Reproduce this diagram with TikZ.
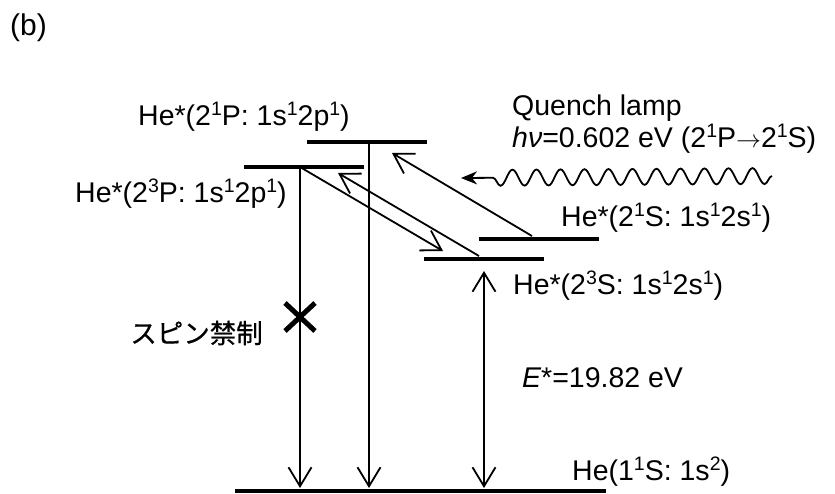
\documentclass[tikz,border=0pt]{standalone}
\usepackage{fontspec}
\setmainfont{Liberation Sans}
\newfontfamily\cjkfont[FakeBold=0.6]{Noto Sans CJK JP}
\usetikzlibrary{arrows.meta,decorations.pathmorphing,calc}
\newcommand\mysup[1]{\raisebox{0.34em}{\fontsize{19.5}{19.5}\selectfont #1}}
\begin{document}
\begin{tikzpicture}[x=1pt,y=-1pt,
  lbl/.style={anchor=base west, inner sep=0pt, font=\fontsize{28.5}{32}\selectfont},
  levelline/.style={line width=3.5pt},
  trans/.style={line width=1.8pt, -{Straight Barb[length=19pt,width=23pt]}},
  both/.style={line width=1.8pt, {Straight Barb[length=19pt,width=23pt]}-{Straight Barb[length=19pt,width=23pt]}},
  wave/.style={line width=1.8pt, -{Stealth[length=16pt,width=13pt,inset=5pt]},
    decorate, decoration={snake, amplitude=8pt, segment length=24pt, post length=22pt}},
  xmark/.style={line width=5pt}]
\useasboundingbox (0,0) rectangle (835,493);

% level end points
\coordinate (P1a) at (307,142); \coordinate (P1b) at (427,142);
\coordinate (P3a) at (244,167); \coordinate (P3b) at (364,167);
\coordinate (S1a) at (479,239); \coordinate (S1b) at (599,239);
\coordinate (S3a) at (424,259); \coordinate (S3b) at (544,259);
\coordinate (Ga) at (235,491);  \coordinate (Gb) at (606,491);

\draw[levelline] (P1a) -- (P1b);
\draw[levelline] (P3a) -- (P3b);
\draw[levelline] (S1a) -- (S1b);
\draw[levelline] (S3a) -- (S3b);
\draw[levelline] (Ga) -- (Gb);

% vertical transitions
\coordinate (v1s) at (300,167); \coordinate (v1e) at (300,488);
\coordinate (v2s) at (369,142); \coordinate (v2e) at (369,488);
\coordinate (v3s) at (484,271); \coordinate (v3e) at (484,488);
\draw[trans] (v1s) -- (v1e);
\draw[trans] (v2s) -- (v2e);
\draw[both] (v3s) -- (v3e);

% diagonal transitions
\coordinate (dAs) at (300,167); \coordinate (dAe) at (443,251);
\coordinate (dBs) at (479,256); \coordinate (dBe) at (338,173);
\coordinate (dCs) at (532,236); \coordinate (dCe) at (392,153);
\draw[trans] (dAs) -- (dAe);
\draw[trans] (dBs) -- (dBe);
\draw[trans] (dCs) -- (dCe);

% quench lamp wave
\coordinate (ws) at (772,176); \coordinate (we) at (461,178);
\draw[wave] (ws) -- (we);

% spin-forbidden cross
\coordinate (xc) at (300,317);
\draw[xmark] ($(xc)+(-15,-14)$) -- ($(xc)+(15,14)$);
\draw[xmark] ($(xc)+(-15,14)$) -- ($(xc)+(15,-14)$);

% labels
\node[lbl, font=\fontsize{30}{32}\selectfont] (b) at (10,35) {(b)};
\node[lbl] (l1p) at (138,125) {He*(2\mysup{1}P: 1s\mysup{1}2p\mysup{1})};
\node[lbl] (l3p) at (75,202) {He*(2\mysup{3}P: 1s\mysup{1}2p\mysup{1})};
\node[lbl] (lq) at (512,115) {Quench lamp};
\node[lbl] (lhv) at (512,147) {{\itshape hν}=0.602 eV (2\mysup{1}P$\rightarrow$2\mysup{1}S)};
\node[lbl] (l1s) at (561,226) {He*(2\mysup{1}S: 1s\mysup{1}2s\mysup{1})};
\node[lbl] (l3s) at (513,294) {He*(2\mysup{3}S: 1s\mysup{1}2s\mysup{1})};
\node[lbl] (le) at (522,387) {{\itshape E}*=19.82 eV};
\node[lbl] (lg) at (572,480) {He(1\mysup{1}S: 1s\mysup{2})};
\node[anchor=east, inner sep=0pt, font=\cjkfont\fontsize{26.5}{30}\selectfont] (spin) at (263,333) {スピン禁制};
\end{tikzpicture}
\end{document}
